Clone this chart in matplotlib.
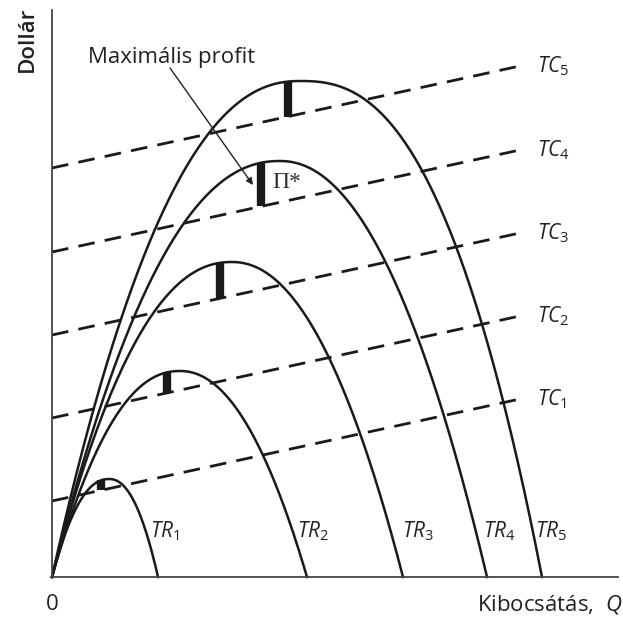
import numpy as np
import matplotlib
matplotlib.use("Agg")
import matplotlib.pyplot as plt

# ---- data (arbitrary units) ----
tr_names = ["1", "2", "3", "4", "5"]
tr_peak_q = [5.7, 12.8, 18.0, 22.8, 24.8]       # output at which TR peaks
tr_peak_val = [9.8, 20.6, 31.5, 41.6, 49.6]     # peak TR value
tr_end_q = [10.6, 25.5, 35.1, 43.5, 49.0]       # output where TR returns to zero
tr_shape_left = [2.2, 2.2, 2.2, 2.2, 2.25]      # curvature exponent (rising side)
tr_shape_right = [2.2, 2.1, 2.1, 2.1, 2.5]      # curvature exponent (falling side)

tc_names = ["1", "2", "3", "4", "5"]
tc_intercept = [7.6, 15.9, 24.2, 32.5, 40.9]    # fixed cost
tc_slope = 0.218                                 # marginal cost
tc_end_q = 47.3

profit_q = [4.9, 11.5, 16.75, 20.9, 23.6]        # profit-maximising outputs

plt.rcParams["font.family"] = ["Open Sans", "DejaVu Sans"]
plt.rcParams["mathtext.fontset"] = "custom"
plt.rcParams["mathtext.it"] = "Open Sans:italic"
plt.rcParams["mathtext.rm"] = "Open Sans"

W, H = 623, 617
fig = plt.figure(figsize=(W / 100, H / 100), dpi=100)
x0, y0, x1, y1 = 52, 577, 618, 10
ax = fig.add_axes([x0 / W, (H - y0) / H, (x1 - x0) / W, (y0 - y1) / H])
ax.set_xlim(0, (x1 - x0) / 10)
ax.set_ylim(0, (y0 - y1) / 10)
for s in ["top", "right"]:
    ax.spines[s].set_visible(False)
for s in ["left", "bottom"]:
    ax.spines[s].set_color("#444444")
    ax.spines[s].set_linewidth(1.3)
ax.set_xticks([])
ax.set_yticks([])


def tr_value(q, i):
    q = np.asarray(q, dtype=float)
    qp, h, qe = tr_peak_q[i], tr_peak_val[i], tr_end_q[i]
    u = np.where(q < qp, (qp - q) / qp, (q - qp) / (qe - qp))
    p = np.where(q < qp, tr_shape_left[i], tr_shape_right[i])
    return h * (1 - np.abs(u) ** p)


def tc_value(q, i):
    return tc_intercept[i] + tc_slope * np.asarray(q, dtype=float)


# TC dashed lines
for i in range(5):
    qq = np.array([0, tc_end_q])
    ax.plot(qq, tc_value(qq, i), color="#1a1a1a", lw=2.0,
            dashes=(6, 3.7), solid_capstyle="butt", dash_capstyle="butt",
            clip_on=False)
    ax.text(tc_end_q + 1.2, tc_value(tc_end_q, i) - 0.1,
            r"$TC_{%s}$" % tc_names[i],
            fontsize=15, color="#222222", va="center", ha="left")

# TR curves
for i in range(5):
    qq = np.linspace(0, tr_end_q[i], 400)
    ax.plot(qq, tr_value(qq, i), color="#1a1a1a", lw=1.8, clip_on=False)

# profit bars
for i in range(5):
    q = profit_q[i]
    ax.plot([q, q], [tc_value(q, i), tr_value(q, i)], color="#1a1a1a",
            lw=6.0, solid_capstyle="butt")

# TR labels
tr_label_x = [9.8, 24.5, 35.0, 43.1, 48.3]
for i in range(5):
    ax.text(tr_label_x[i], 4.6, r"$TR_{%s}$" % tr_names[i], fontsize=15,
            color="#222222", ha="left", va="center")

# annotation
fig.text(88 / W, 1 - 57 / H, "Maximális profit", fontsize=16,
         color="#222222", ha="left", va="center")
ax.annotate("", xy=((253 - x0) / 10, (y0 - 185) / 10),
            xytext=((170 - x0) / 10, (y0 - 68) / 10),
            arrowprops=dict(arrowstyle="-|>", color="#222222", lw=1.0,
                            mutation_scale=10, shrinkA=0, shrinkB=0))
ax.text((272 - x0) / 10, (y0 - 182) / 10, "Π*", fontsize=17,
        family="Liberation Serif", color="#333333", ha="left", va="center")

# axis labels
fig.text(27 / W, 1 - 39 / H, "Dollár", fontsize=16, rotation=90,
         fontweight="semibold", color="#222222", ha="center", va="center")
fig.text(477 / W, 1 - 604 / H, r"Kibocsátás,  $Q$", fontsize=16,
         color="#222222", ha="left", va="center")
fig.text(52 / W, 1 - 605 / H, "0", fontsize=16, color="#222222",
         ha="center", va="center")

fig.savefig("out.png", dpi=100)
